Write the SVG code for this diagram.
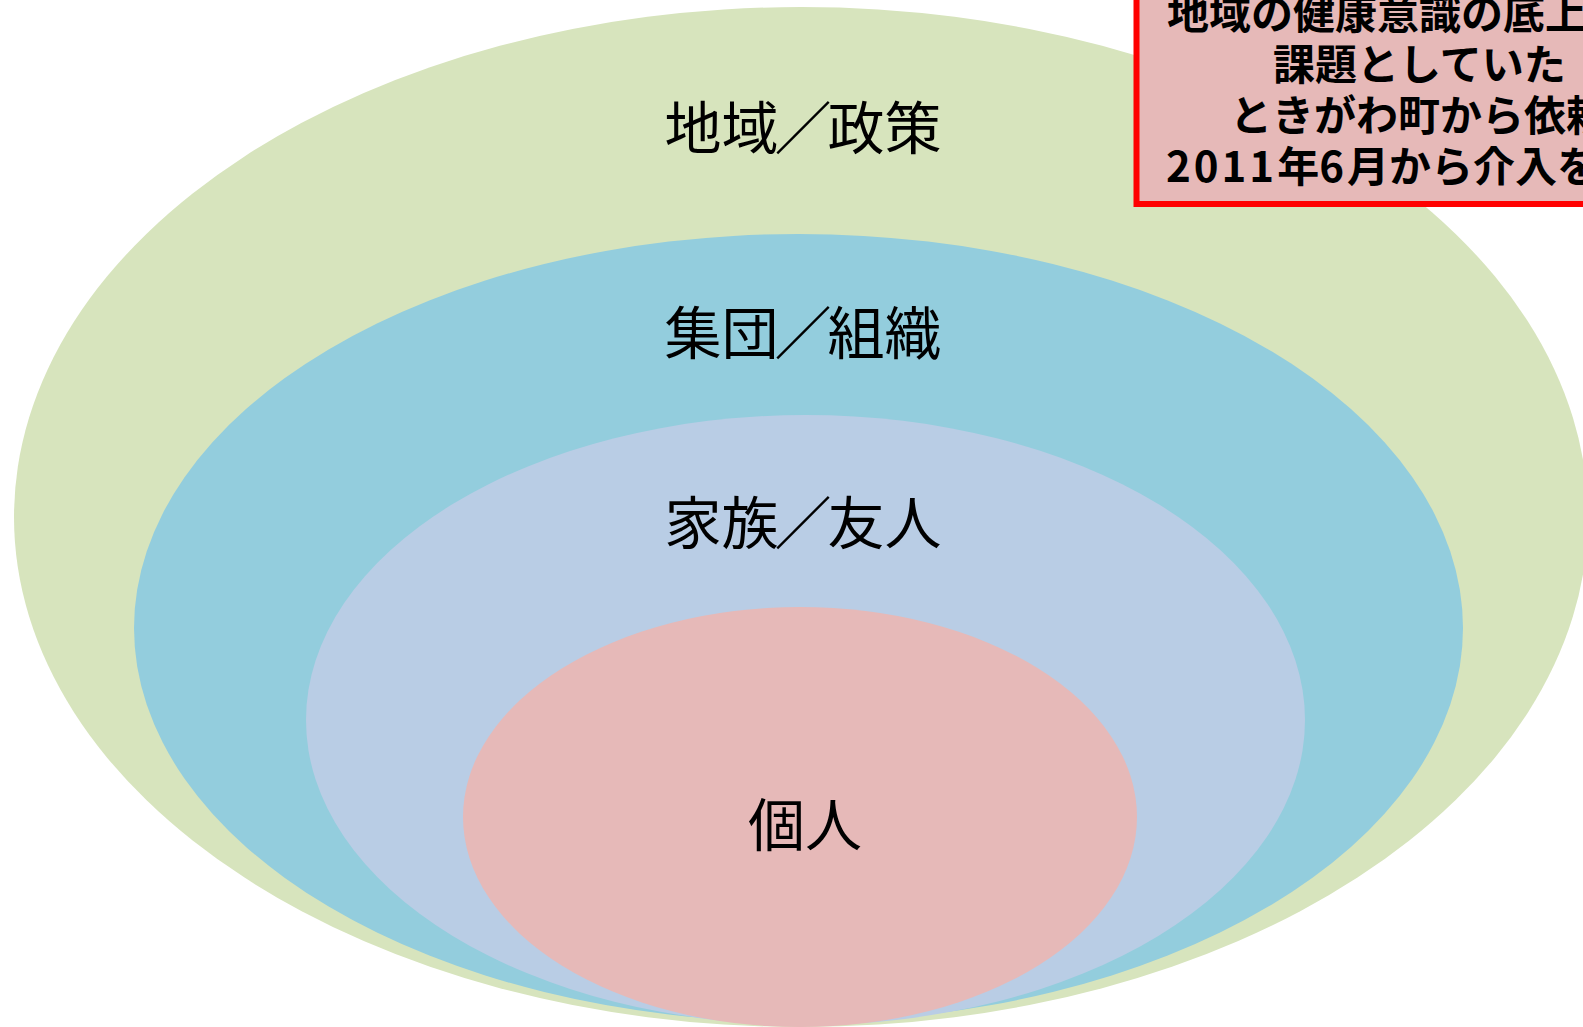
<svg xmlns="http://www.w3.org/2000/svg" width="1583" height="1027" viewBox="0 0 1583 1027">
<style>
.lbl{font-family:"Noto Sans CJK JP","Noto Sans CJK SC",sans-serif;font-size:57px;fill:#000;text-anchor:middle}
.note{font-family:"Noto Sans CJK JP","Noto Sans CJK SC",sans-serif;font-size:42px;font-weight:700;fill:#000}
</style>
<rect width="1583" height="1027" fill="#ffffff"/>
<g id="region-policy">
<ellipse cx="801" cy="517" rx="787" ry="510" fill="#D7E4BD"/>
<text class="lbl" x="803" y="149">地域<tspan dx="-4">／</tspan><tspan dx="-4">政策</tspan></text>
</g>
<g id="group-organization">
<ellipse cx="798.5" cy="628" rx="664.5" ry="394" fill="#93CDDD"/>
<text class="lbl" x="803" y="354">集団<tspan dx="-4">／</tspan><tspan dx="-4">組織</tspan></text>
</g>
<g id="family-friends">
<ellipse cx="805.5" cy="720" rx="499.5" ry="305" fill="#B9CDE5"/>
<text class="lbl" x="803" y="544">家族<tspan dx="-4">／</tspan><tspan dx="-4">友人</tspan></text>
</g>
<g id="individual">
<ellipse cx="800" cy="817" rx="337" ry="210" fill="#E6B9B8"/>
<text class="lbl" x="805" y="846">個人</text>
</g>
<g id="note-box">
<rect x="1136.5" y="-10" width="480" height="214" fill="#E6B9B8" stroke="#FF0000" stroke-width="6"/>
<text class="note" x="1167" y="29">地域の健康意識の底上</text>
<text class="note" x="1273" y="80">課題としていた</text>
<text class="note" x="1230" y="131">ときがわ町から依頼</text>
<text class="note" x="1166" y="182"><tspan letter-spacing="3">2011</tspan>年<tspan letter-spacing="3">6</tspan>月から介入を</text>
</g>
</svg>
